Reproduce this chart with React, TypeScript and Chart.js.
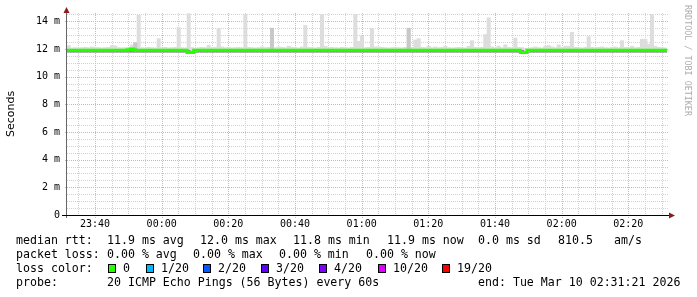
import { useEffect, useRef } from 'react';
import { Chart, registerables } from 'chart.js';

Chart.register(...registerables);

// first sample time, in minutes after 23:00 (23:31:36); one sample per minute
const startMinute = 31.6;
const spanMinutes = 180;

// median round-trip time per minute (ms)
const medianRtt: number[] = [
  11.9, 11.9, 11.9, 11.9, 11.9, 11.9, 11.9, 11.9, 11.9, 11.9, 11.9, 11.9, 11.9, 11.9, 11.9, 11.9, 11.9, 11.9, 11.9, 11.95,
  12.0, 11.9, 11.9, 11.9, 11.9, 11.9, 11.9, 11.9, 11.9, 11.9, 11.9, 11.9, 11.9, 11.9, 11.9, 11.9, 11.9, 11.75, 11.75, 11.9,
  11.9, 11.9, 11.9, 11.9, 11.9, 11.9, 11.9, 11.9, 11.9, 11.9, 11.9, 11.9, 11.9, 11.9, 11.9, 11.9, 11.9, 11.9, 11.9, 11.9,
  11.9, 11.9, 11.9, 11.9, 11.9, 11.9, 11.9, 11.9, 11.9, 11.9, 11.9, 11.9, 11.9, 11.9, 11.9, 11.9, 11.9, 11.9, 11.9, 11.9,
  11.9, 11.9, 11.9, 11.9, 11.9, 11.9, 11.9, 11.9, 11.9, 11.9, 11.9, 11.9, 11.9, 11.9, 11.9, 11.9, 11.9, 11.9, 11.9, 11.9,
  11.9, 11.9, 11.9, 11.9, 11.9, 11.9, 11.9, 11.9, 11.9, 11.9, 11.9, 11.9, 11.9, 11.9, 11.9, 11.9, 11.9, 11.9, 11.9, 11.9,
  11.9, 11.9, 11.9, 11.9, 11.9, 11.9, 11.9, 11.9, 11.9, 11.9, 11.9, 11.9, 11.9, 11.9, 11.9, 11.9, 11.9, 11.75, 11.75, 11.9,
  11.9, 11.9, 11.9, 11.9, 11.9, 11.9, 11.9, 11.9, 11.9, 11.9, 11.9, 11.9, 11.9, 11.9, 11.9, 11.9, 11.9, 11.9, 11.9, 11.9,
  11.9, 11.9, 11.9, 11.9, 11.9, 11.9, 11.9, 11.9, 11.9, 11.9, 11.9, 11.9, 11.9, 11.9, 11.9, 11.9, 11.9, 11.9, 11.9, 11.9,
];

// highest ping of each minute (top of the smoke, ms)
const smokeHigh: number[] = [
  12.25, 12.08, 12.1, 12.08, 12.1, 12.12, 12.1, 12.15, 12.12, 12.1, 12.08, 12.1, 12.12, 12.25, 12.22, 12.1, 12.08, 12.1, 12.12, 12.3,
  12.45, 14.45, 12.1, 12.08, 12.12, 12.1, 12.08, 12.75, 12.1, 12.12, 12.08, 12.1, 12.12, 13.55, 12.1, 12.08, 14.55, 12.1, 12.05, 12.1,
  12.12, 12.1, 12.25, 12.1, 12.12, 13.5, 12.15, 12.1, 12.12, 12.08, 12.1, 12.12, 12.1, 14.5, 12.12, 12.1, 12.08, 12.1, 12.15, 12.1,
  12.12, 13.5, 12.1, 12.15, 12.12, 12.1, 12.2, 12.12, 12.1, 12.08, 12.15, 13.7, 12.12, 12.1, 12.08, 12.12, 14.5, 12.2, 12.1, 12.12,
  12.1, 12.08, 12.12, 12.1, 12.08, 12.12, 14.5, 12.55, 12.95, 12.1, 12.12, 13.5, 12.15, 12.15, 12.12, 12.1, 12.08, 12.1, 12.12, 12.1,
  12.08, 12.12, 13.5, 12.12, 12.65, 12.75, 12.12, 12.1, 12.2, 12.1, 12.15, 12.1, 12.12, 12.2, 12.1, 12.08, 12.1, 12.12, 12.1, 12.08,
  12.2, 12.6, 12.12, 12.1, 12.12, 13.05, 14.25, 12.15, 12.1, 12.2, 12.1, 12.3, 12.12, 12.1, 12.8, 12.12, 12.1, 12.05, 12.05, 12.1,
  12.15, 12.1, 12.08, 12.2, 12.25, 12.15, 12.1, 12.3, 12.12, 12.2, 12.2, 13.2, 12.12, 12.1, 12.08, 12.12, 12.9, 12.12, 12.1, 12.12,
  12.15, 12.1, 12.08, 12.12, 12.15, 12.1, 12.6, 12.12, 12.1, 12.2, 12.1, 12.12, 12.7, 12.7, 12.35, 14.5, 12.2, 12.12, 12.1, 12.08,
];
const smokeLow = 11.85;
const coreLow = 11.76;

// minutes where the smoke is denser (darker grey)
const denseIdx = [20, 61, 102];
const denseHigh = [12.45, 13.5, 13.5];

const yTickValues = [0, 2, 4, 6, 8, 10, 12, 14];
const xTickValues = [40, 60, 80, 100, 120, 140, 160, 180, 200];
const xTickLabels = ['23:40', '00:00', '00:20', '00:40', '01:00', '01:20', '01:40', '02:00', '02:20'];

const rttStats = ['11.9 ms avg', '12.0 ms max', '11.8 ms min', '11.9 ms now', '0.0 ms sd', '810.5', 'am/s'];
const lossStats = ['0.00 % avg', '0.00 % max', '0.00 % min', '0.00 % now'];
const lossLabels = ['0', '1/20', '2/20', '3/20', '4/20', '10/20', '19/20'];
const lossColors = ['#26ff00', '#00b8ff', '#0059ff', '#5e00ff', '#7e00ff', '#dd00ff', '#ff0000'];
const probeText = '20 ICMP Echo Pings (56 Bytes) every 60s';
const endText = 'end: Tue Mar 10 02:31:21 2026';
const watermark = 'RRDTOOL / TOBI OETIKER';

const MONO = '"DejaVu Sans Mono", monospace';

const decorPlugin = {
  id: 'rrdDecor',
  beforeDatasetsDraw(chart: any) {
    const { ctx, chartArea } = chart;
    const xs = chart.scales.x;
    const ys = chart.scales.y;
    const left = chartArea.left;
    const right = chartArea.right + 2;
    const top = chartArea.top;
    const bottom = chartArea.bottom;
    ctx.save();
    ctx.lineWidth = 1;
    ctx.setLineDash([1, 1]);
    // minor grid
    ctx.strokeStyle = '#d2d2d2';
    for (let v = 0.5; v <= ys.max; v += 0.5) {
      if (Math.abs(v % 2) < 1e-6) continue;
      const y = Math.round(ys.getPixelForValue(v)) + 0.5;
      ctx.beginPath(); ctx.moveTo(left, y); ctx.lineTo(right, y); ctx.stroke();
    }
    for (let m = 35; m <= xs.max; m += 5) {
      if (m % 20 === 0) continue;
      const x = Math.round(xs.getPixelForValue(m)) + 0.5;
      ctx.beginPath(); ctx.moveTo(x, top); ctx.lineTo(x, bottom); ctx.stroke();
    }
    // major grid
    ctx.strokeStyle = '#eea8a8';
    for (const v of yTickValues) {
      if (v === 0) continue;
      const y = Math.round(ys.getPixelForValue(v)) + 0.5;
      ctx.beginPath(); ctx.moveTo(left - 2, y); ctx.lineTo(right, y); ctx.stroke();
    }
    for (const m of xTickValues) {
      const x = Math.round(xs.getPixelForValue(m)) + 0.5;
      ctx.beginPath(); ctx.moveTo(x, top); ctx.lineTo(x, bottom + 3); ctx.stroke();
    }
    ctx.restore();
  },
  afterDraw(chart: any) {
    const { ctx, chartArea } = chart;
    const left = Math.round(chartArea.left);
    const bottom = Math.round(chartArea.bottom);
    const right = Math.round(chartArea.right);
    ctx.save();
    ctx.setLineDash([]);
    // axes
    ctx.lineWidth = 1;
    ctx.strokeStyle = '#666';
    ctx.beginPath(); ctx.moveTo(left - 0.5, bottom + 3); ctx.lineTo(left - 0.5, chartArea.top - 2); ctx.stroke();
    ctx.strokeStyle = '#000';
    ctx.beginPath(); ctx.moveTo(left - 5, bottom + 0.5); ctx.lineTo(right + 3, bottom + 0.5); ctx.stroke();
    // arrows
    ctx.fillStyle = '#8a1c1c';
    ctx.beginPath(); ctx.moveTo(left - 3.5, chartArea.top); ctx.lineTo(left + 2.5, chartArea.top); ctx.lineTo(left - 0.5, chartArea.top - 6); ctx.closePath(); ctx.fill();
    ctx.beginPath(); ctx.moveTo(right + 2, bottom - 2.5); ctx.lineTo(right + 2, bottom + 3.5); ctx.lineTo(right + 8, bottom + 0.5); ctx.closePath(); ctx.fill();

    // watermark
    ctx.save();
    ctx.translate(687.5, 5);
    ctx.rotate(Math.PI / 2);
    ctx.font = `8.4px ${MONO}`;
    ctx.fillStyle = '#adadad';
    ctx.textBaseline = 'middle';
    ctx.textAlign = 'left';
    ctx.fillText(watermark, 0, 0);
    ctx.restore();

    // legend text
    ctx.font = `11.6px ${MONO}`;
    ctx.fillStyle = '#000';
    ctx.textBaseline = 'middle';
    ctx.textAlign = 'left';
    const row1 = 241, row2 = 255, row3 = 269, row4 = 283;
    ctx.fillText('median rtt:', 16, row1);
    const rttX = [107, 200, 293, 387, 478, 558, 614];
    rttStats.forEach((s, i) => ctx.fillText(s, rttX[i], row1));
    ctx.fillText('packet loss:', 16, row2);
    const lossX = [107, 193, 279, 366];
    lossStats.forEach((s, i) => ctx.fillText(s, lossX[i], row2));
    ctx.fillText('loss color:', 16, row3);
    const boxX = [108, 146, 203, 261, 319, 378, 442];
    lossLabels.forEach((s, i) => {
      ctx.fillStyle = lossColors[i];
      ctx.fillRect(boxX[i] + 0.5, row3 - 4, 7, 8);
      ctx.strokeStyle = '#000';
      ctx.strokeRect(boxX[i] + 0.5, row3 - 4.5, 7, 8);
      ctx.fillStyle = '#000';
      ctx.fillText(s, boxX[i] + 15, row3);
    });
    ctx.fillText('probe:', 16, row4);
    ctx.fillText(probeText, 107, row4);
    ctx.fillText(endText, 478, row4);
    ctx.restore();
  },
};

export default function App() {
  const ref = useRef<HTMLCanvasElement | null>(null);
  useEffect(() => {
    document.body.style.margin = '0';
    const canvas = ref.current;
    if (!canvas) return;
    const centre = (i: number) => startMinute + i + 0.5;
    const smoke = smokeHigh.map((v, i) => ({ x: centre(i), y: [smokeLow, v] }));
    const dense = denseIdx.map((idx, k) => ({ x: centre(idx), y: [smokeLow, denseHigh[k]] }));
    const core = medianRtt.map((v, i) => ({ x: centre(i), y: [coreLow, v] }));
    const line = medianRtt.map((v, i) => ({ x: startMinute + i, y: v }));
    line.push({ x: startMinute + medianRtt.length, y: medianRtt[medianRtt.length - 1] });

    const barCommon = {
      type: 'bar' as const,
      grouped: false,
      barPercentage: 1,
      categoryPercentage: 1,
      borderWidth: 0,
    };

    const chart = new Chart(canvas, {
      type: 'bar',
      data: {
        datasets: [
          { ...barCommon, label: 'smoke', data: smoke as any, backgroundColor: '#dddddd', order: 4 },
          { ...barCommon, label: 'dense', data: dense as any, backgroundColor: '#c8c8c8', order: 3 },
          { ...barCommon, label: 'core', data: core as any, backgroundColor: '#8c8c8c', order: 2 },
          {
            type: 'line',
            label: 'median rtt',
            data: line as any,
            borderColor: '#26ff00',
            borderWidth: 3,
            stepped: 'after',
            pointRadius: 0,
            fill: false,
            order: 1,
          } as any,
        ],
      },
      options: {
        animation: false,
        responsive: false,
        maintainAspectRatio: false,
        layout: { padding: { left: 0, top: 12.7, right: 30, bottom: 0 } },
        plugins: { legend: { display: false }, tooltip: { enabled: false } },
        scales: {
          x: {
            type: 'linear',
            offset: false,
            min: startMinute,
            max: startMinute + spanMinutes,
            grid: { display: false, drawTicks: false },
            border: { display: false },
            afterBuildTicks: (scale: any) => {
              scale.ticks = xTickValues.map((v) => ({ value: v }));
            },
            afterFit: (scale: any) => { scale.height = 82; },
            ticks: {
              autoSkip: false,
              maxRotation: 0,
              padding: 3,
              color: '#000',
              font: { family: MONO, size: 10 },
              callback: (_v: any, i: number) => xTickLabels[i],
            },
          },
          y: {
            type: 'linear',
            min: 0,
            max: 14.6,
            grid: { display: false, drawTicks: false },
            border: { display: false },
            afterBuildTicks: (scale: any) => {
              scale.ticks = yTickValues.map((v) => ({ value: v }));
            },
            afterFit: (scale: any) => { scale.width = 67; },
            title: {
              display: true,
              text: 'Seconds',
              color: '#000',
              font: { family: '"DejaVu Sans", sans-serif', size: 11 },
              padding: { top: 4.5, bottom: 0 },
            },
            ticks: {
              padding: 7,
              color: '#000',
              font: { family: MONO, size: 10 },
              callback: (v: any) => (v === 0 ? '0' : `${v} m`),
            },
          },
        },
      },
      plugins: [decorPlugin],
    });
    return () => chart.destroy();
  }, []);

  return (
    <div style={{ position: 'absolute', left: 0, top: 0, width: 697, height: 297, background: '#fff' }}>
      <canvas ref={ref} width={697} height={297} style={{ display: 'block' }} />
    </div>
  );
}
